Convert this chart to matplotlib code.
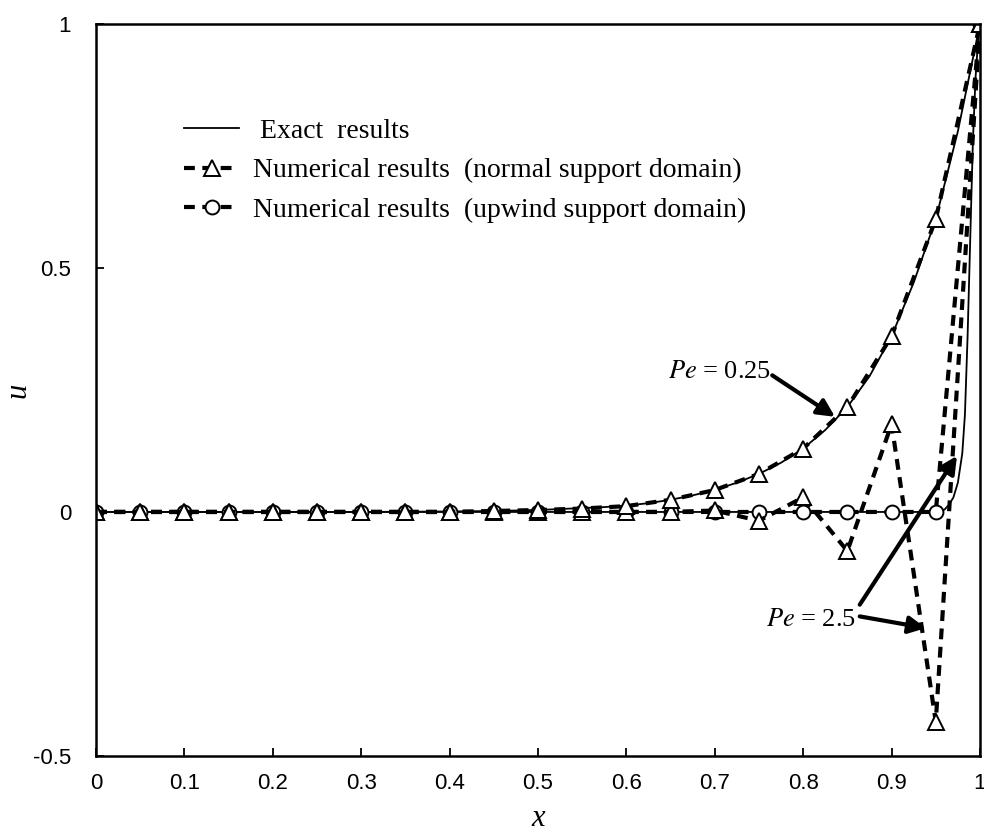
import matplotlib
matplotlib.use('Agg')
import matplotlib.pyplot as plt
from matplotlib.lines import Line2D

plt.rcParams['mathtext.fontset'] = 'stix'

# node positions of the numerical solutions
x_nodes = [0.0, 0.05, 0.1, 0.15, 0.2, 0.25, 0.3, 0.35, 0.4, 0.45, 0.5,
           0.55, 0.6, 0.65, 0.7, 0.75, 0.8, 0.85, 0.9, 0.95, 1.0]

# Pe = 0.25, normal support domain
u_normal_025 = [0.0, 0.0, 0.0, 0.0, 0.0, 0.0, 0.0, 0.0, 0.0, 0.002, 0.004,
                0.007, 0.012, 0.025, 0.045, 0.078, 0.13, 0.215, 0.36, 0.6, 1.0]
# Pe = 2.5, normal support domain
u_normal_25 = [0.0, 0.0, 0.0, 0.0, 0.0, 0.0, 0.0, 0.0, 0.0, 0.0, 0.0,
               0.0, 0.0, 0.0, 0.003, -0.018, 0.03, -0.08, 0.18, -0.43, 1.0]
# Pe = 2.5, upwind support domain
u_upwind_25 = [0.0, 0.0, 0.0, 0.0, 0.0, 0.0, 0.0, 0.0, 0.0, 0.0, 0.0,
               0.0, 0.0, 0.0, 0.0, 0.0, 0.0, 0.0, 0.0, 0.0, 1.0]

# exact solution, Pe = 0.25
x_exact_025 = [0.0, 0.1, 0.2, 0.3, 0.4, 0.45, 0.5, 0.525, 0.55, 0.575, 0.6,
               0.625, 0.65, 0.675, 0.7, 0.725, 0.75, 0.775, 0.8, 0.825,
               0.85, 0.875, 0.9, 0.925, 0.95, 0.975, 1.0]
u_exact_025 = [0.0, 0.0, 0.0, 0.0, 0.001, 0.002, 0.004, 0.006, 0.008, 0.010,
               0.013, 0.018, 0.025, 0.034, 0.045, 0.06, 0.078, 0.101, 0.13,
               0.168, 0.215, 0.278, 0.36, 0.47, 0.6, 0.78, 1.0]

# exact solution, Pe = 2.5
x_exact_25 = [0.0, 0.2, 0.4, 0.6, 0.8, 0.9, 0.95, 0.955, 0.96, 0.965, 0.97,
              0.975, 0.98, 0.983, 0.986, 0.989, 0.992, 0.995, 0.998, 1.0]
u_exact_25 = [0.0, 0.0, 0.0, 0.0, 0.0, 0.0, 0.0, 0.001, 0.005, 0.015, 0.03,
              0.06, 0.12, 0.2, 0.36, 0.56, 0.76, 0.89, 0.97, 1.0]

serif = 'Liberation Serif'

fig = plt.figure(figsize=(9.84, 8.38), dpi=100)
ax = fig.add_axes([0.0976, 0.0979, 0.8983, 0.8735])

dash_kw = dict(color='black', lw=3.0, dashes=(2.6, 1.8), mfc='white',
               mec='black', mew=1.4)

ax.plot(x_exact_025, u_exact_025, color='black', lw=1.3)
ax.plot(x_exact_25, u_exact_25, color='black', lw=1.3)
ax.plot(x_nodes, u_upwind_25, marker='o', ms=10, **dash_kw)
ax.plot(x_nodes, u_normal_25, marker='^', ms=11, **dash_kw)
ax.plot(x_nodes, u_normal_025, marker='^', ms=11, **dash_kw)

# annotations
arrow = dict(arrowstyle='-|>', lw=3, color='black', mutation_scale=26,
             shrinkA=0, shrinkB=0)
ax.text(0.764, 0.287, r'$Pe$ = 0.25', fontsize=19, family=serif,
        ha='right', va='center')
ax.annotate('', xy=(0.836, 0.195), xytext=(0.765, 0.28), arrowprops=arrow)

ax.text(0.86, -0.222, r'$Pe$ = 2.5', fontsize=19, family=serif,
        ha='right', va='center')
ax.annotate('', xy=(0.974, 0.115), xytext=(0.864, -0.19), arrowprops=arrow)
ax.annotate('', xy=(0.939, -0.238), xytext=(0.864, -0.214), arrowprops=arrow)

ax.set_xlim(0, 1)
ax.set_ylim(-0.5, 1)
ax.set_xticks([0, 0.1, 0.2, 0.3, 0.4, 0.5, 0.6, 0.7, 0.8, 0.9, 1])
ax.set_xticklabels(['0', '0.1', '0.2', '0.3', '0.4', '0.5', '0.6', '0.7',
                    '0.8', '0.9', '1'])
ax.set_yticks([-0.5, 0, 0.5, 1])
ax.set_yticklabels(['-0.5', '0', '0.5', '1'])
ax.tick_params(direction='in', length=6, width=1.3, labelsize=16)
ax.tick_params(axis='x', pad=12)
ax.tick_params(axis='y', pad=18)
for lab in ax.get_xticklabels() + ax.get_yticklabels():
    lab.set_family('Liberation Sans')
for sp in ax.spines.values():
    sp.set_linewidth(1.8)

ax.set_xlabel('x', fontsize=22, family=serif, style='italic')
ax.set_ylabel('u', fontsize=22, family=serif, style='italic')
ax.xaxis.set_label_coords(0.5, -0.066)
ax.yaxis.set_label_coords(-0.072, 0.5)

# legend
handles = [Line2D([], [], color='black', lw=1.3),
           Line2D([], [], marker='^', ms=11, **dash_kw),
           Line2D([], [], marker='o', ms=10, **dash_kw)]
labels = [' Exact  results',
          'Numerical results  (normal support domain)',
          'Numerical results  (upwind support domain)']
ax.legend(handles, labels, loc='upper left', bbox_to_anchor=(0.071, 0.905),
          frameon=False, prop={'family': serif, 'size': 20},
          handlelength=2.0, handletextpad=0.5, labelspacing=0.5)

fig.savefig('out.png', dpi=100)
